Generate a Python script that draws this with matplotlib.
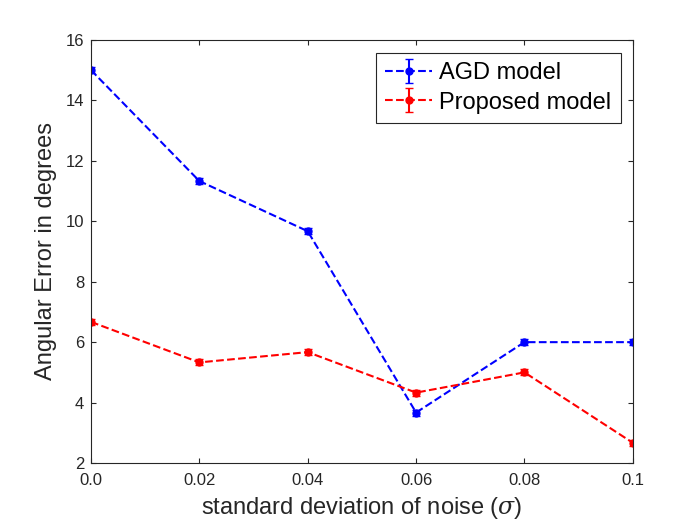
import matplotlib.pyplot as plt

plt.rcParams['font.family'] = ['Liberation Sans', 'DejaVu Sans']
plt.rcParams['mathtext.fontset'] = 'dejavuserif'

noise = [0.0, 0.02, 0.04, 0.06, 0.08, 0.1]
agd = [15.0, 11.33, 9.67, 3.67, 6.0, 6.0]
proposed = [6.67, 5.33, 5.67, 4.33, 5.0, 2.67]
agd_err = [0.1, 0.1, 0.1, 0.1, 0.1, 0.1]
prop_err = [0.1, 0.1, 0.1, 0.1, 0.1, 0.1]
xticks = [0.0, 0.02, 0.04, 0.06, 0.08, 0.1]
xlabels = ['0.0', '0.02', '0.04', '0.06', '0.08', '0.1']

fig = plt.figure(figsize=(7, 5.25), dpi=100)
# axes box: x 91..633 px, y 40..463 px
ax = fig.add_axes([0.13, 0.118, 0.774, 0.806])

ax.errorbar(noise, agd, yerr=agd_err, color='blue', ls='--', lw=1.5,
            marker='o', ms=5, capsize=3, label='AGD model')
ax.errorbar(noise, proposed, yerr=prop_err, color='red', ls='--', lw=1.5,
            marker='o', ms=5, capsize=3, label='Proposed model')

ax.set_xlim(0, 0.1)
ax.set_ylim(2, 16)
ax.set_xticks(xticks)
ax.set_xticklabels(xlabels)
ax.set_yticks(range(2, 17, 2))
ax.tick_params(direction='in', top=True, right=True, labelsize=12, colors='#262626')
ax.tick_params(axis='x', pad=7)
ax.tick_params(axis='y', pad=5)
for s in ax.spines.values():
    s.set_color('#262626')
ax.set_xlabel('standard deviation of noise ($\\sigma$)', fontsize=17, color='#262626', labelpad=5)
ax.set_ylabel('Angular Error in degrees', fontsize=17, color='#262626', labelpad=6)
leg = ax.legend(loc='upper right', bbox_to_anchor=(621 / 700, 1 - 53 / 525), bbox_transform=fig.transFigure,
                fontsize=17, fancybox=False, edgecolor='#262626',
                handlelength=2.0, handletextpad=0.3, borderpad=0.4, labelspacing=0.3,
                borderaxespad=0, framealpha=1)
leg.get_frame().set_linewidth(0.8)

fig.savefig('out.png')
